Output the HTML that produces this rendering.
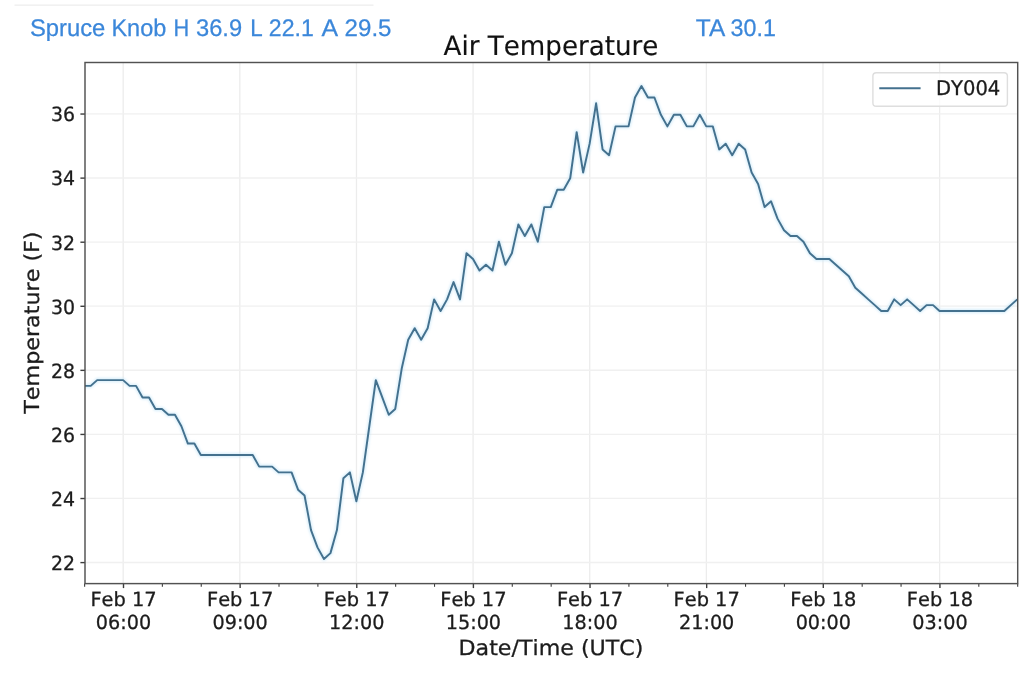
<!DOCTYPE html>
<html lang="en">
<head>
<meta charset="utf-8">
<title>Air Temperature</title>
<style>
html, body { margin: 0; padding: 0; background: #ffffff; }
body { width: 1024px; height: 677px; overflow: hidden; font-family: "Liberation Sans", "DejaVu Sans", sans-serif; }
svg { display: block; filter: blur(0.5px); }
svg text { font-kerning: none; }
svg .hdr text { font-kerning: normal; }
</style>
</head>
<body>
<svg width="1024" height="677" viewBox="0 0 1024 677" text-rendering="geometricPrecision">
<rect x="0" y="0" width="1024" height="677" fill="#ffffff"/>
<rect x="14.5" y="4.4" width="359" height="1.6" fill="#f1f1f1"/>
<g stroke="#f0f0f0" stroke-width="1.3" fill="none">
<line x1="123.20" y1="62.5" x2="123.20" y2="583.6" stroke="#ececec"/>
<line x1="239.83" y1="62.5" x2="239.83" y2="583.6" stroke="#ececec"/>
<line x1="356.47" y1="62.5" x2="356.47" y2="583.6" stroke="#ececec"/>
<line x1="473.10" y1="62.5" x2="473.10" y2="583.6" stroke="#ececec"/>
<line x1="589.73" y1="62.5" x2="589.73" y2="583.6" stroke="#ececec"/>
<line x1="706.37" y1="62.5" x2="706.37" y2="583.6" stroke="#ececec"/>
<line x1="823.00" y1="62.5" x2="823.00" y2="583.6" stroke="#ececec"/>
<line x1="939.64" y1="62.5" x2="939.64" y2="583.6" stroke="#ececec"/>
<line x1="85.0" y1="562.50" x2="1017.7" y2="562.50"/>
<line x1="85.0" y1="498.42" x2="1017.7" y2="498.42"/>
<line x1="85.0" y1="434.34" x2="1017.7" y2="434.34"/>
<line x1="85.0" y1="370.26" x2="1017.7" y2="370.26"/>
<line x1="85.0" y1="306.18" x2="1017.7" y2="306.18"/>
<line x1="85.0" y1="242.10" x2="1017.7" y2="242.10"/>
<line x1="85.0" y1="178.02" x2="1017.7" y2="178.02"/>
<line x1="85.0" y1="113.94" x2="1017.7" y2="113.94"/>
</g>
<clipPath id="ax"><rect x="85.0" y="62.5" width="932.7" height="521.1"/></clipPath>
<filter id="hb" x="-5%" y="-5%" width="110%" height="110%"><feGaussianBlur stdDeviation="1.1"/></filter>
<polyline clip-path="url(#ax)" points="84.22,385.88 90.70,385.88 97.18,380.11 103.66,380.11 110.14,380.11 116.62,380.11 123.10,380.11 129.58,385.88 136.06,385.88 142.54,397.41 149.02,397.41 155.50,408.95 161.98,408.95 168.46,414.72 174.94,414.72 181.41,426.25 187.89,443.55 194.37,443.55 200.85,455.09 207.33,455.09 213.81,455.09 220.29,455.09 226.77,455.09 233.25,455.09 239.73,455.09 246.21,455.09 252.69,455.09 259.17,466.62 265.65,466.62 272.13,466.62 278.61,472.39 285.09,472.39 291.57,472.39 298.05,489.69 304.53,495.46 311.01,530.06 317.49,547.36 323.97,558.90 330.45,553.13 336.93,530.06 343.41,478.16 349.89,472.39 356.37,501.22 362.85,472.39 369.33,426.25 375.81,380.11 382.28,397.41 388.76,414.72 395.24,408.95 401.72,368.58 408.20,339.74 414.68,328.21 421.16,339.74 427.64,328.21 434.12,299.37 440.60,310.91 447.08,299.37 453.56,282.07 460.04,299.37 466.52,253.23 473.00,259.00 479.48,270.54 485.96,264.77 492.44,270.54 498.92,241.70 505.40,264.77 511.88,253.23 518.36,224.40 524.84,235.93 531.32,224.40 537.80,241.70 544.28,207.10 550.76,207.10 557.24,189.80 563.72,189.80 570.20,178.26 576.67,132.12 583.15,172.49 589.63,143.66 596.11,103.29 602.59,149.42 609.07,155.19 615.55,126.36 622.03,126.36 628.51,126.36 634.99,97.52 641.47,85.99 647.95,97.52 654.43,97.52 660.91,114.82 667.39,126.36 673.87,114.82 680.35,114.82 686.83,126.36 693.31,126.36 699.79,114.82 706.27,126.36 712.75,126.36 719.23,149.42 725.71,143.66 732.19,155.19 738.67,143.66 745.15,149.42 751.63,172.49 758.11,184.03 764.59,207.10 771.06,201.33 777.54,218.63 784.02,230.17 790.50,235.93 796.98,235.93 803.46,241.70 809.94,253.23 816.42,259.00 822.90,259.00 829.38,259.00 835.86,264.77 842.34,270.54 848.82,276.30 855.30,287.84 861.78,293.60 868.26,299.37 874.74,305.14 881.22,310.91 887.70,310.91 894.18,299.37 900.66,305.14 907.14,299.37 913.62,305.14 920.10,310.91 926.58,305.14 933.06,305.14 939.54,310.91 946.02,310.91 952.50,310.91 958.98,310.91 965.45,310.91 971.93,310.91 978.41,310.91 984.89,310.91 991.37,310.91 997.85,310.91 1004.33,310.91 1010.81,305.14 1017.29,299.37" fill="none" stroke="#bfe4f7" stroke-opacity="0.55" stroke-width="4.5" stroke-linejoin="round" filter="url(#hb)"/>
<polyline clip-path="url(#ax)" points="84.22,385.88 90.70,385.88 97.18,380.11 103.66,380.11 110.14,380.11 116.62,380.11 123.10,380.11 129.58,385.88 136.06,385.88 142.54,397.41 149.02,397.41 155.50,408.95 161.98,408.95 168.46,414.72 174.94,414.72 181.41,426.25 187.89,443.55 194.37,443.55 200.85,455.09 207.33,455.09 213.81,455.09 220.29,455.09 226.77,455.09 233.25,455.09 239.73,455.09 246.21,455.09 252.69,455.09 259.17,466.62 265.65,466.62 272.13,466.62 278.61,472.39 285.09,472.39 291.57,472.39 298.05,489.69 304.53,495.46 311.01,530.06 317.49,547.36 323.97,558.90 330.45,553.13 336.93,530.06 343.41,478.16 349.89,472.39 356.37,501.22 362.85,472.39 369.33,426.25 375.81,380.11 382.28,397.41 388.76,414.72 395.24,408.95 401.72,368.58 408.20,339.74 414.68,328.21 421.16,339.74 427.64,328.21 434.12,299.37 440.60,310.91 447.08,299.37 453.56,282.07 460.04,299.37 466.52,253.23 473.00,259.00 479.48,270.54 485.96,264.77 492.44,270.54 498.92,241.70 505.40,264.77 511.88,253.23 518.36,224.40 524.84,235.93 531.32,224.40 537.80,241.70 544.28,207.10 550.76,207.10 557.24,189.80 563.72,189.80 570.20,178.26 576.67,132.12 583.15,172.49 589.63,143.66 596.11,103.29 602.59,149.42 609.07,155.19 615.55,126.36 622.03,126.36 628.51,126.36 634.99,97.52 641.47,85.99 647.95,97.52 654.43,97.52 660.91,114.82 667.39,126.36 673.87,114.82 680.35,114.82 686.83,126.36 693.31,126.36 699.79,114.82 706.27,126.36 712.75,126.36 719.23,149.42 725.71,143.66 732.19,155.19 738.67,143.66 745.15,149.42 751.63,172.49 758.11,184.03 764.59,207.10 771.06,201.33 777.54,218.63 784.02,230.17 790.50,235.93 796.98,235.93 803.46,241.70 809.94,253.23 816.42,259.00 822.90,259.00 829.38,259.00 835.86,264.77 842.34,270.54 848.82,276.30 855.30,287.84 861.78,293.60 868.26,299.37 874.74,305.14 881.22,310.91 887.70,310.91 894.18,299.37 900.66,305.14 907.14,299.37 913.62,305.14 920.10,310.91 926.58,305.14 933.06,305.14 939.54,310.91 946.02,310.91 952.50,310.91 958.98,310.91 965.45,310.91 971.93,310.91 978.41,310.91 984.89,310.91 991.37,310.91 997.85,310.91 1004.33,310.91 1010.81,305.14 1017.29,299.37" fill="none" stroke="#44718e" stroke-width="1.95" stroke-linejoin="round" stroke-linecap="butt"/>
<g stroke="#3c3c3c" fill="none">
<line x1="84.62" y1="583.6" x2="84.62" y2="586.80" stroke-width="1.1"/>
<line x1="123.50" y1="583.6" x2="123.50" y2="588.10" stroke-width="1.4"/>
<line x1="162.38" y1="583.6" x2="162.38" y2="586.80" stroke-width="1.1"/>
<line x1="201.25" y1="583.6" x2="201.25" y2="586.80" stroke-width="1.1"/>
<line x1="240.13" y1="583.6" x2="240.13" y2="588.10" stroke-width="1.4"/>
<line x1="279.01" y1="583.6" x2="279.01" y2="586.80" stroke-width="1.1"/>
<line x1="317.89" y1="583.6" x2="317.89" y2="586.80" stroke-width="1.1"/>
<line x1="356.77" y1="583.6" x2="356.77" y2="588.10" stroke-width="1.4"/>
<line x1="395.64" y1="583.6" x2="395.64" y2="586.80" stroke-width="1.1"/>
<line x1="434.52" y1="583.6" x2="434.52" y2="586.80" stroke-width="1.1"/>
<line x1="473.40" y1="583.6" x2="473.40" y2="588.10" stroke-width="1.4"/>
<line x1="512.28" y1="583.6" x2="512.28" y2="586.80" stroke-width="1.1"/>
<line x1="551.16" y1="583.6" x2="551.16" y2="586.80" stroke-width="1.1"/>
<line x1="590.03" y1="583.6" x2="590.03" y2="588.10" stroke-width="1.4"/>
<line x1="628.91" y1="583.6" x2="628.91" y2="586.80" stroke-width="1.1"/>
<line x1="667.79" y1="583.6" x2="667.79" y2="586.80" stroke-width="1.1"/>
<line x1="706.67" y1="583.6" x2="706.67" y2="588.10" stroke-width="1.4"/>
<line x1="745.55" y1="583.6" x2="745.55" y2="586.80" stroke-width="1.1"/>
<line x1="784.42" y1="583.6" x2="784.42" y2="586.80" stroke-width="1.1"/>
<line x1="823.30" y1="583.6" x2="823.30" y2="588.10" stroke-width="1.4"/>
<line x1="862.18" y1="583.6" x2="862.18" y2="586.80" stroke-width="1.1"/>
<line x1="901.06" y1="583.6" x2="901.06" y2="586.80" stroke-width="1.1"/>
<line x1="939.94" y1="583.6" x2="939.94" y2="588.10" stroke-width="1.4"/>
<line x1="978.81" y1="583.6" x2="978.81" y2="586.80" stroke-width="1.1"/>
<line x1="1017.69" y1="583.6" x2="1017.69" y2="586.80" stroke-width="1.1"/>
<line x1="80.40" y1="562.60" x2="85.0" y2="562.60" stroke-width="1.4"/>
<line x1="80.40" y1="498.52" x2="85.0" y2="498.52" stroke-width="1.4"/>
<line x1="80.40" y1="434.44" x2="85.0" y2="434.44" stroke-width="1.4"/>
<line x1="80.40" y1="370.36" x2="85.0" y2="370.36" stroke-width="1.4"/>
<line x1="80.40" y1="306.28" x2="85.0" y2="306.28" stroke-width="1.4"/>
<line x1="80.40" y1="242.20" x2="85.0" y2="242.20" stroke-width="1.4"/>
<line x1="80.40" y1="178.12" x2="85.0" y2="178.12" stroke-width="1.4"/>
<line x1="80.40" y1="114.04" x2="85.0" y2="114.04" stroke-width="1.4"/>
</g>
<rect x="85.0" y="62.5" width="932.70" height="521.10" fill="none" stroke="#525252" stroke-width="1.45"/>
<g font-family="'DejaVu Sans', 'Liberation Sans', sans-serif" fill="#1c1c1c">
<text transform="translate(75.00,569.90) scale(0.975,1.01)" font-size="19.4" text-anchor="end" stroke="#1c1c1c" stroke-width="0.3">22</text>
<text transform="translate(75.00,505.82) scale(0.975,1.01)" font-size="19.4" text-anchor="end" stroke="#1c1c1c" stroke-width="0.3">24</text>
<text transform="translate(75.00,441.74) scale(0.975,1.01)" font-size="19.4" text-anchor="end" stroke="#1c1c1c" stroke-width="0.3">26</text>
<text transform="translate(75.00,377.66) scale(0.975,1.01)" font-size="19.4" text-anchor="end" stroke="#1c1c1c" stroke-width="0.3">28</text>
<text transform="translate(75.00,313.58) scale(0.975,1.01)" font-size="19.4" text-anchor="end" stroke="#1c1c1c" stroke-width="0.3">30</text>
<text transform="translate(75.00,249.50) scale(0.975,1.01)" font-size="19.4" text-anchor="end" stroke="#1c1c1c" stroke-width="0.3">32</text>
<text transform="translate(75.00,185.42) scale(0.975,1.01)" font-size="19.4" text-anchor="end" stroke="#1c1c1c" stroke-width="0.3">34</text>
<text transform="translate(75.00,121.34) scale(0.975,1.01)" font-size="19.4" text-anchor="end" stroke="#1c1c1c" stroke-width="0.3">36</text>
<text transform="translate(123.50,606.10)" font-size="19.4" text-anchor="middle" stroke="#1c1c1c" stroke-width="0.3">Feb 17</text>
<text transform="translate(123.50,628.60) scale(0.99,1.0)" font-size="19.4" text-anchor="middle" stroke="#1c1c1c" stroke-width="0.3">06:00</text>
<text transform="translate(240.13,606.10)" font-size="19.4" text-anchor="middle" stroke="#1c1c1c" stroke-width="0.3">Feb 17</text>
<text transform="translate(240.13,628.60) scale(0.99,1.0)" font-size="19.4" text-anchor="middle" stroke="#1c1c1c" stroke-width="0.3">09:00</text>
<text transform="translate(356.77,606.10)" font-size="19.4" text-anchor="middle" stroke="#1c1c1c" stroke-width="0.3">Feb 17</text>
<text transform="translate(356.77,628.60) scale(0.99,1.0)" font-size="19.4" text-anchor="middle" stroke="#1c1c1c" stroke-width="0.3">12:00</text>
<text transform="translate(473.40,606.10)" font-size="19.4" text-anchor="middle" stroke="#1c1c1c" stroke-width="0.3">Feb 17</text>
<text transform="translate(473.40,628.60) scale(0.99,1.0)" font-size="19.4" text-anchor="middle" stroke="#1c1c1c" stroke-width="0.3">15:00</text>
<text transform="translate(590.03,606.10)" font-size="19.4" text-anchor="middle" stroke="#1c1c1c" stroke-width="0.3">Feb 17</text>
<text transform="translate(590.03,628.60) scale(0.99,1.0)" font-size="19.4" text-anchor="middle" stroke="#1c1c1c" stroke-width="0.3">18:00</text>
<text transform="translate(706.67,606.10)" font-size="19.4" text-anchor="middle" stroke="#1c1c1c" stroke-width="0.3">Feb 17</text>
<text transform="translate(706.67,628.60) scale(0.99,1.0)" font-size="19.4" text-anchor="middle" stroke="#1c1c1c" stroke-width="0.3">21:00</text>
<text transform="translate(823.30,606.10)" font-size="19.4" text-anchor="middle" stroke="#1c1c1c" stroke-width="0.3">Feb 18</text>
<text transform="translate(823.30,628.60) scale(0.99,1.0)" font-size="19.4" text-anchor="middle" stroke="#1c1c1c" stroke-width="0.3">00:00</text>
<text transform="translate(939.94,606.10)" font-size="19.4" text-anchor="middle" stroke="#1c1c1c" stroke-width="0.3">Feb 18</text>
<text transform="translate(939.94,628.60) scale(0.99,1.0)" font-size="19.4" text-anchor="middle" stroke="#1c1c1c" stroke-width="0.3">03:00</text>
<text transform="translate(551.00,655.00) scale(0.994,0.94)" font-size="22.3" text-anchor="middle" stroke="#1c1c1c" stroke-width="0.3">Date/Time (UTC)</text>
<text transform="translate(39.30,322.60) rotate(-90) scale(0.997,0.925)" font-size="22.3" text-anchor="middle" stroke="#1c1c1c" stroke-width="0.3">Temperature (F)</text>
<text transform="translate(551.00,54.50) scale(0.976,1.0)" font-size="26.8" text-anchor="middle" fill="#111111" stroke="#111111" stroke-width="0.15">Air Temperature</text>
</g>
<rect x="872.9" y="72.7" width="134.5" height="33.6" rx="3.4" ry="3.4" fill="#ffffff" fill-opacity="0.8" stroke="#dedede" stroke-width="1.4"/>
<line x1="879.3" y1="88.2" x2="920.6" y2="88.2" stroke="#44718e" stroke-width="1.95"/>
<text transform="translate(935.9,94.8) scale(1.02,1.05)" font-family="'DejaVu Sans', 'Liberation Sans', sans-serif" font-size="19.2" fill="#1c1c1c" stroke="#1c1c1c" stroke-width="0.3">DY004</text>
<g class="hdr" font-family="'Liberation Sans', 'DejaVu Sans', sans-serif" fill="#3b87da" font-size="24.0" stroke="#3b87da" stroke-width="0.25">
<text transform="translate(29.90,36.4) scale(0.9908,1)">Spruce</text>
<text transform="translate(111.40,36.4) scale(0.9786,1)">Knob</text>
<text transform="translate(173.50,36.4) scale(0.9075,1)">H</text>
<text transform="translate(196.00,36.4) scale(0.9861,1)">36.9</text>
<text transform="translate(250.20,36.4) scale(0.9323,1)">L</text>
<text transform="translate(268.80,36.4) scale(0.9615,1)">22.1</text>
<text transform="translate(321.50,36.4) scale(1.0375,1)">A</text>
<text transform="translate(344.60,36.4) scale(1.0043,1)">29.5</text>
<text transform="translate(695.80,36.4) scale(1.0173,1)">TA</text>
<text transform="translate(730.60,36.4) scale(0.9700,1)">30.1</text>
</g>
</svg>
</body>
</html>
